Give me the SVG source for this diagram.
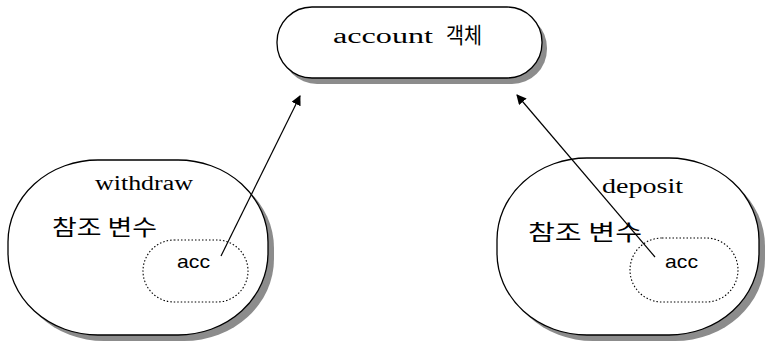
<svg xmlns="http://www.w3.org/2000/svg" width="769" height="349" viewBox="0 0 769 349">
<style>
.shadow{fill:#8c8c8c;stroke:none}
.shape{fill:#fff;stroke:#000;stroke-width:1.3}
.dot{fill:#fff;stroke:#000;stroke-width:1.1;stroke-dasharray:1.5 2}
.serif{font-family:"Liberation Serif","Noto Sans CJK KR",serif;fill:#000;font-size:20px}
.ko{font-family:"Noto Sans CJK KR","Liberation Sans",sans-serif;fill:#000;font-size:22px}
.sans{font-family:"Liberation Sans",Arial,sans-serif;fill:#000;font-size:19px}
.conn{stroke:#000;stroke-width:1.2;fill:none}
</style>
<defs>
<marker id="arr" viewBox="0 0 10 10" refX="9" refY="5" markerWidth="10" markerHeight="10" markerUnits="userSpaceOnUse" orient="auto">
<path d="M0,0 L10,5 L0,10 z" fill="#000"/>
</marker>
</defs>
<rect width="769" height="349" fill="#fff"/>
<g id="account">
<rect class="shadow" x="282" y="13" width="265" height="71" rx="35" ry="35"/>
<rect class="shape" x="277" y="7" width="265" height="71" rx="35" ry="35"/>
<text class="serif" x="333" y="43" textLength="100" lengthAdjust="spacingAndGlyphs">account</text>
<text class="ko" x="446" y="43" font-size="19" textLength="36" lengthAdjust="spacingAndGlyphs">객체</text>
</g>
<g id="withdraw">
<rect class="shadow" x="14" y="166" width="260" height="175" rx="90" ry="82"/>
<rect class="shape" x="8" y="160" width="260" height="175" rx="90" ry="82"/>
<text class="serif" x="95" y="190" textLength="98" lengthAdjust="spacingAndGlyphs">withdraw</text>
<text class="ko" x="52" y="235" textLength="105" lengthAdjust="spacingAndGlyphs">참조 변수</text>
<g id="acc1">
<rect class="dot" x="143" y="240" width="105" height="62" rx="31" ry="31"/>
<text class="sans" x="177" y="268" textLength="33" lengthAdjust="spacingAndGlyphs">acc</text>
</g>
</g>
<g id="deposit">
<rect class="shadow" x="503" y="164" width="262" height="177" rx="90" ry="82"/>
<rect class="shape" x="497" y="158" width="262" height="177" rx="90" ry="82"/>
<text class="serif" x="602" y="193" textLength="81" lengthAdjust="spacingAndGlyphs">deposit</text>
<text class="ko" x="528" y="240" textLength="114" lengthAdjust="spacingAndGlyphs">참조 변수</text>
<g id="acc2">
<rect class="dot" x="630" y="238" width="108" height="64" rx="32" ry="32"/>
<text class="sans" x="665" y="268" textLength="33" lengthAdjust="spacingAndGlyphs">acc</text>
</g>
</g>
<g id="connectors">
<line class="conn" x1="221" y1="256" x2="300" y2="96" marker-end="url(#arr)"/>
<line class="conn" x1="655" y1="257" x2="517" y2="95" marker-end="url(#arr)"/>
</g>
</svg>
